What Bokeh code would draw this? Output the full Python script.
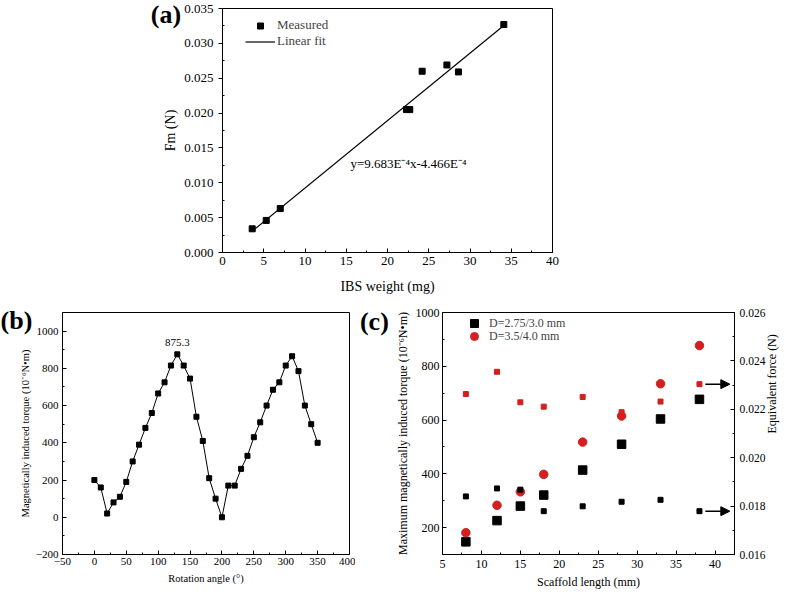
import math
from bokeh.plotting import figure
from bokeh.models import (Range1d, LinearAxis, FixedTicker, PrintfTickFormatter,
                          Label, Legend, LegendItem, Arrow, NormalHead)
from bokeh.layouts import column, row
from bokeh.embed import file_html
from bokeh.resources import INLINE

FONT = "Liberation Serif"
RED = "#d41f1f"

# ---------------- data (a) ----------------
ibs_weight = [3.6, 5.3, 7.0, 22.3, 22.7, 24.2, 27.2, 28.6, 34.1]
fm_measured = [0.0034, 0.0046, 0.0063, 0.0205, 0.0205, 0.0260, 0.0269, 0.0259, 0.0327]
fit_slope = 9.683e-4
fit_intercept = -4.466e-4
a_xticks = [0, 5, 10, 15, 20, 25, 30, 35, 40]
a_xminor = [2.5, 7.5, 12.5, 17.5, 22.5, 27.5, 32.5, 37.5]
a_yticks = [0.0, 0.005, 0.010, 0.015, 0.020, 0.025, 0.030, 0.035]
a_yminor = [0.0025, 0.0075, 0.0125, 0.0175, 0.0225, 0.0275, 0.0325]

# ---------------- data (b) ----------------
rotation_angle = [0, 10, 20, 30, 40, 50, 60, 70, 80, 90, 100, 110, 120, 130, 140, 150, 160, 170,
                  180, 190, 200, 210, 220, 230, 240, 250, 260, 270, 280, 290, 300, 310, 320, 330, 340, 350]
torque = [200, 160, 20, 80, 110, 190, 300, 390, 480, 560, 665, 725, 815, 875.3, 815, 745, 540, 410,
          210, 100, 0, 170, 170, 260, 330, 430, 510, 600, 685, 725, 815, 865, 785, 600, 500, 400]
b_xticks = [-50, 0, 50, 100, 150, 200, 250, 300, 350, 400]
b_xminor = [-25, 25, 75, 125, 175, 225, 275, 325, 375]
b_yticks = [-200, 0, 200, 400, 600, 800, 1000]
b_yminor = [-100, 100, 300, 500, 700, 900]

# ---------------- data (c) ----------------
scaffold_length = [8, 12, 15, 18, 23, 28, 33, 38]
torque_small_d = [147, 226, 280, 321, 414, 510, 604, 677]
torque_large_d = [181, 283, 333, 398, 518, 615, 735, 877]
force_small_d = [0.01840, 0.01873, 0.01868, 0.01779, 0.01799, 0.01818, 0.01826, 0.01779]
force_large_d = [0.02263, 0.02355, 0.02229, 0.02211, 0.02251, 0.02188, 0.02232, 0.02304]
c_xticks = [5, 10, 15, 20, 25, 30, 35, 40]
c_xminor = [7.5, 12.5, 17.5, 22.5, 27.5, 32.5, 37.5, 42.5]
c_yticks = [200, 400, 600, 800, 1000]
c_yminor = [100, 300, 500, 700, 900]
c_rticks = [0.016, 0.018, 0.020, 0.022, 0.024, 0.026]
c_rminor = [0.017, 0.019, 0.021, 0.023, 0.025]


def style_axis(ax, tick_fs, label_fs, tick_in=4, tick_out=0, minor_in=2, minor_out=0,
               label_standoff=4, axis_label_standoff=4):
    ax.axis_line_color = "black"
    ax.axis_line_width = 1
    ax.major_tick_line_color = "black"
    ax.minor_tick_line_color = "black"
    ax.major_tick_in = tick_in
    ax.major_tick_out = tick_out
    ax.minor_tick_in = minor_in
    ax.minor_tick_out = minor_out
    ax.major_label_text_font = FONT
    ax.major_label_text_font_size = tick_fs
    ax.major_label_text_color = "black"
    ax.major_label_standoff = label_standoff
    ax.axis_label_text_font = FONT
    ax.axis_label_text_font_size = label_fs
    ax.axis_label_text_font_style = "normal"
    ax.axis_label_text_color = "black"
    ax.axis_label_standoff = axis_label_standoff


def base_fig(**kw):
    p = figure(output_backend="svg", toolbar_location=None, **kw)
    p.xgrid.visible = False
    p.ygrid.visible = False
    p.outline_line_color = "black"
    p.outline_line_alpha = 1.0
    p.outline_line_width = 1
    p.background_fill_color = "white"
    p.border_fill_color = "white"
    return p


def make_legend(item, loc, gw, gh, fs, standoff):
    return Legend(items=[item], location=loc, glyph_width=gw, glyph_height=gh,
                  label_height=gh, label_standoff=standoff, padding=0, margin=0, spacing=0,
                  border_line_color=None, background_fill_alpha=0,
                  label_text_font=FONT, label_text_font_size=fs)


def panel_letter(text, x, y):
    return Label(x=x, y=y, text=text, text_font=FONT, text_font_size="26px",
                 text_font_style="bold", text_align="left", text_baseline="middle",
                 text_color="black")


# ================= (a) =================
pa = base_fig(width=789, height=336, x_range=Range1d(0, 40), y_range=Range1d(0, 0.035),
              min_border_left=222, min_border_right=237, min_border_top=8, min_border_bottom=84)
pa.xaxis.axis_label = "IBS weight (mg)"
pa.yaxis.axis_label = "Fm (N)"
pa.xaxis.ticker = FixedTicker(ticks=a_xticks, minor_ticks=a_xminor)
pa.yaxis.ticker = FixedTicker(ticks=a_yticks, minor_ticks=a_yminor)
pa.yaxis.formatter = PrintfTickFormatter(format="%.3f")
style_axis(pa.xaxis[0], "13px", "14px", label_standoff=4, axis_label_standoff=11)
style_axis(pa.yaxis[0], "13px", "14px", tick_in=0, tick_out=4, label_standoff=5, axis_label_standoff=3)

fit_x = [min(ibs_weight), max(ibs_weight)]
fit_y = [fit_slope * v + fit_intercept for v in fit_x]
r_fit = pa.line(fit_x, fit_y, line_color="black", line_width=1.2)
r_meas = pa.scatter(ibs_weight, fm_measured, marker="square", size=6, fill_color="black", line_color="black")

pa.add_layout(make_legend(LegendItem(label="Measured", renderers=[r_meas]), (23, 219), 30, 15, "13px", 2))
pa.add_layout(make_legend(LegendItem(label="Linear fit", renderers=[r_fit]), (23, 203), 30, 15, "13px", 2))
pa.add_layout(Label(x=15.5, y=0.0128, text="y=9.683E\u207b\u2074x-4.466E\u207b\u2074", text_font=FONT,
                    text_font_size="13px", text_align="left", text_baseline="middle", text_color="black"))
pa.add_layout(panel_letter("(a)", -8.7, 0.0341), "left")
# letter of panel (b) lives in the lower margin of the top figure (the row below overlaps it)
pa.add_layout(panel_letter("(b)", -26.9, -0.00975), "below")

# ================= (b) =================
pb = base_fig(width=355, height=293, x_range=Range1d(-50, 400), y_range=Range1d(-200, 1100),
              min_border_left=62, min_border_right=6, min_border_top=12, min_border_bottom=39)
pb.border_fill_alpha = 0
pb.xaxis.axis_label = "Rotation angle (\u00b0)"
pb.yaxis.axis_label = "Magnetically induced torque (10\u207b\u2076N\u2022m)"
pb.xaxis.ticker = FixedTicker(ticks=b_xticks, minor_ticks=b_xminor)
pb.yaxis.ticker = FixedTicker(ticks=b_yticks, minor_ticks=b_yminor)
style_axis(pb.xaxis[0], "11px", "10.5px", label_standoff=3, axis_label_standoff=5)
style_axis(pb.yaxis[0], "11px", "10.5px", label_standoff=4, axis_label_standoff=2)
pb.line(rotation_angle, torque, line_color="black", line_width=1)
pb.scatter(rotation_angle, torque, marker="square", size=5, fill_color="black", line_color="black")
pb.add_layout(Label(x=130, y=940, text="875.3", text_font=FONT, text_font_size="11px",
                    text_align="center", text_baseline="middle", text_color="black"))

# ================= (c) =================
pc = base_fig(width=434, height=293, x_range=Range1d(5, 42.5), y_range=Range1d(100, 1000),
              min_border_left=87, min_border_right=49, min_border_top=11, min_border_bottom=39)
pc.border_fill_alpha = 0
pc.extra_y_ranges = {"force": Range1d(0.016, 0.026)}
pc.xaxis.axis_label = "Scaffold length (mm)"
pc.yaxis.axis_label = "Maximum magnetically induced torque (10\u207b\u2076N\u2022m)"
pc.xaxis.ticker = FixedTicker(ticks=c_xticks, minor_ticks=c_xminor)
pc.yaxis.ticker = FixedTicker(ticks=c_yticks, minor_ticks=c_yminor)
style_axis(pc.xaxis[0], "12px", "12px", label_standoff=5, axis_label_standoff=4)
style_axis(pc.yaxis[0], "12px", "12px", label_standoff=3, axis_label_standoff=3)
rax = LinearAxis(y_range_name="force", axis_label="Equivalent force (N)",
                 ticker=FixedTicker(ticks=c_rticks, minor_ticks=c_rminor),
                 formatter=PrintfTickFormatter(format="%.3f"))
style_axis(rax, "11.5px", "12px", label_standoff=5, axis_label_standoff=4)
if "axis_label_orientation" in rax.properties():
    rax.axis_label_orientation = math.pi / 2
pc.add_layout(rax, "right")

r_sq = pc.scatter(scaffold_length, torque_small_d, marker="square", size=8.5, fill_color="black", line_color="black")
r_ci = pc.scatter(scaffold_length, torque_large_d, marker="circle", size=8.5, fill_color=RED, line_color=RED)
pc.scatter(scaffold_length, force_small_d, marker="square", size=5, fill_color="black", line_color="black",
           y_range_name="force")
pc.scatter(scaffold_length, force_large_d, marker="square", size=5, fill_color=RED, line_color=RED,
           y_range_name="force")

for yv in (force_large_d[-1], force_small_d[-1]):
    pc.add_layout(Arrow(end=NormalHead(size=9, fill_color="black", line_color="black"),
                        x_start=38.75, y_start=yv, x_end=41.9, y_end=yv, y_range_name="force",
                        line_color="black", line_width=1.5))

pc.add_layout(make_legend(LegendItem(label="D=2.75/3.0 mm", renderers=[r_sq]), (22, 221), 20, 20, "12px", 5))
pc.add_layout(make_legend(LegendItem(label="D=3.5/4.0 mm", renderers=[r_ci]), (22, 208), 20, 20, "12px", 5))
pc.add_layout(panel_letter("(c)", -5.6, 967), "left")

layout = column(pa, row(pb, pc, margin=(-36, 0, 0, 0)))

open("out.html", "w").write(file_html(layout, INLINE))
